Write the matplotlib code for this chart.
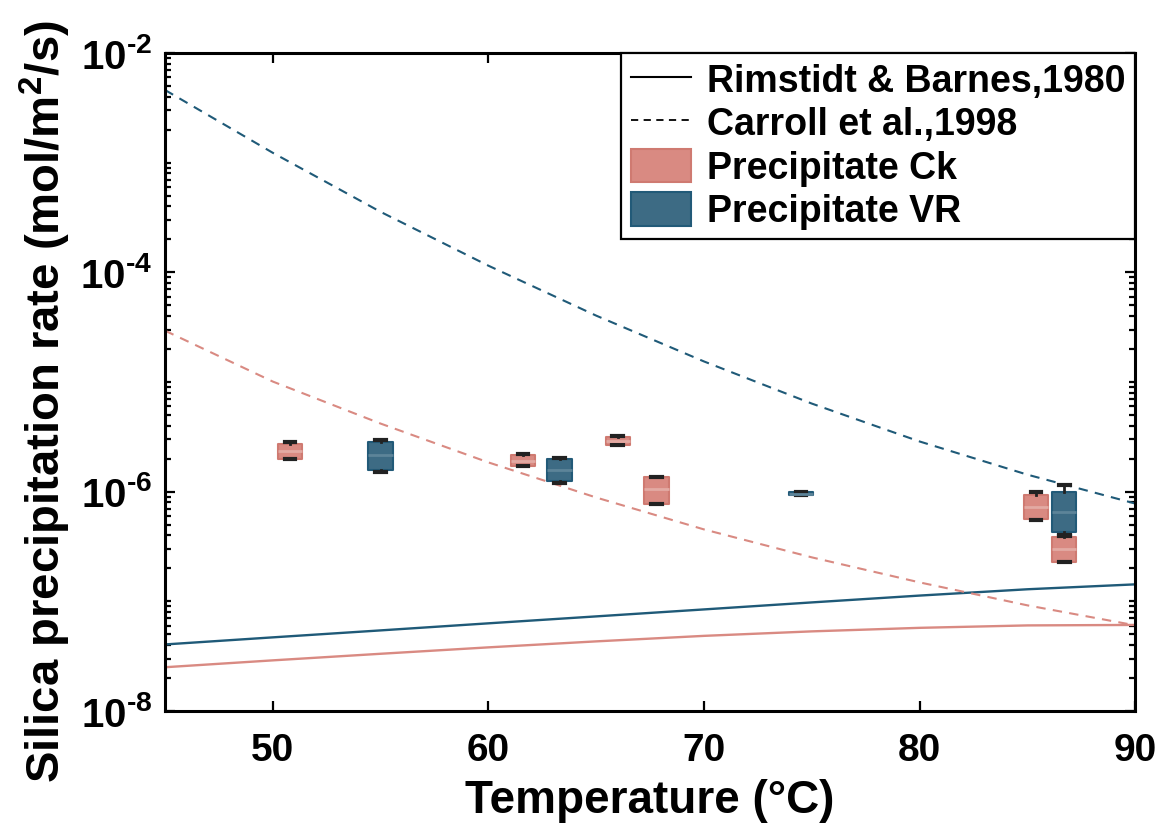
import numpy as np
import matplotlib
matplotlib.use("Agg")
import matplotlib.pyplot as plt
from matplotlib.lines import Line2D
from matplotlib.patches import Patch
from matplotlib.ticker import LogLocator, NullFormatter

# model curves (read at 5 degC steps)
temps = [45, 50, 55, 60, 65, 70, 75, 80, 85, 90]
rimstidt_vr = [4.05e-8, 4.70e-8, 5.44e-8, 6.31e-8, 7.30e-8, 8.45e-8, 9.79e-8, 1.13e-7, 1.29e-7, 1.43e-7]
rimstidt_ck = [2.51e-8, 2.90e-8, 3.33e-8, 3.81e-8, 4.32e-8, 4.85e-8, 5.33e-8, 5.74e-8, 6.04e-8, 6.10e-8]
carroll_vr = [4.6e-3, 1.23e-3, 3.56e-4, 1.15e-4, 4.03e-5, 1.54e-5, 6.36e-6, 2.87e-6, 1.43e-6, 7.8e-7]
carroll_ck = [2.94e-5, 1.01e-5, 4.18e-6, 1.85e-6, 8.85e-7, 4.53e-7, 2.52e-7, 1.49e-7, 9.2e-8, 6.05e-8]

# measured precipitation rates (box statistics)
ck_temp = [50.8, 61.6, 66.0, 67.8, 85.4, 86.7]
ck_whislo = [1.99e-6, 1.70e-6, 2.66e-6, 7.7e-7, 5.5e-7, 2.27e-7]
ck_q1 = [2.00e-6, 1.71e-6, 2.69e-6, 7.8e-7, 5.66e-7, 2.28e-7]
ck_med = [2.35e-6, 1.92e-6, 2.92e-6, 1.05e-6, 7.3e-7, 2.98e-7]
ck_q3 = [2.75e-6, 2.14e-6, 3.18e-6, 1.35e-6, 9.3e-7, 3.9e-7]
ck_whishi = [2.84e-6, 2.20e-6, 3.25e-6, 1.37e-6, 9.9e-7, 3.94e-7]

vr_temp = [55.0, 63.3, 74.5, 86.7]
vr_whislo = [1.52e-6, 1.19e-6, 9.3e-7, 4.0e-7]
vr_q1 = [1.59e-6, 1.25e-6, 9.3e-7, 4.28e-7]
vr_med = [2.14e-6, 1.59e-6, 9.6e-7, 6.6e-7]
vr_q3 = [2.82e-6, 1.97e-6, 1.0e-6, 1.0e-6]
vr_whishi = [2.99e-6, 2.04e-6, 1.0e-6, 1.14e-6]

x_ticks = [50, 60, 70, 80, 90]
y_ticks = [1e-8, 1e-6, 1e-4, 1e-2]
y_ticklabels = [r"$10^{\text{-8}}$", r"$10^{\text{-6}}$", r"$10^{\text{-4}}$", r"$10^{\text{-2}}$"]

red = "#d98a82"
red_edge = "#cf7a71"
red_med = "#e3aaa3"
blue = "#3d6b84"
blue_edge = "#225a78"
blue_med = "#5d8499"
blue_line = "#1f5a78"

plt.rcParams["font.family"] = ["Liberation Sans", "DejaVu Sans"]
plt.rcParams["font.weight"] = "bold"
plt.rcParams["mathtext.fontset"] = "custom"
plt.rcParams["mathtext.rm"] = "Liberation Sans:bold"
plt.rcParams["mathtext.bf"] = "Liberation Sans:bold"
plt.rcParams["mathtext.default"] = "bf"


def make_stats(lo, q1, med, q3, hi):
    return [dict(whislo=a, q1=b, med=c, q3=d, whishi=e, fliers=[])
            for a, b, c, d, e in zip(lo, q1, med, q3, hi)]


fig = plt.figure(figsize=(11.62, 8.23), dpi=100)
ax = fig.add_axes([0.142, 0.136, 0.835, 0.7996])

ax.plot(temps, rimstidt_vr, color=blue_line, lw=1.7)
ax.plot(temps, rimstidt_ck, color=red, lw=1.7)
ax.plot(temps, carroll_vr, color=blue_line, lw=1.5, ls=(0, (4.5, 3.5)))
ax.plot(temps, carroll_ck, color=red, lw=1.5, ls=(0, (4.5, 3.5)))

for stats, pos, fc, ec, mc in [
        (make_stats(vr_whislo, vr_q1, vr_med, vr_q3, vr_whishi), vr_temp, blue, blue_edge, blue_med),
        (make_stats(ck_whislo, ck_q1, ck_med, ck_q3, ck_whishi), ck_temp, red, red_edge, red_med)]:
    ax.bxp(stats, positions=pos, widths=1.13, patch_artist=True, showfliers=False,
           manage_ticks=False, capwidths=0.5,
           boxprops=dict(facecolor=fc, edgecolor=ec, linewidth=1.5, joinstyle="round"),
           whiskerprops=dict(color="#222222", linewidth=2),
           capprops=dict(color="#222222", linewidth=3),
           medianprops=dict(color=mc, linewidth=2))

ax.set_xlim(45, 90)
ax.set_yscale("log")
ax.set_ylim(1e-8, 1e-2)
ax.set_xticks(x_ticks)
ax.set_xticklabels([str(t) for t in x_ticks])
ax.set_yticks(y_ticks)
ax.set_yticklabels(y_ticklabels)
ax.yaxis.set_minor_locator(LogLocator(base=10, subs=np.arange(1, 10), numticks=100))
ax.yaxis.set_minor_formatter(NullFormatter())

ax.tick_params(which="both", direction="in", top=True, right=True, width=1.6)
ax.tick_params(which="major", length=7)
ax.tick_params(which="minor", length=4)
ax.tick_params(axis="x", labelsize=28, pad=16)
ax.tick_params(axis="y", labelsize=29, pad=9)
for s in ax.spines.values():
    s.set_linewidth(2.2)

ax.set_xlabel("Temperature (°C)", fontsize=33, fontweight="bold", labelpad=7)
ax.set_ylabel(r"Silica precipitation rate (mol/m$^{2}$/s)", fontsize=34, fontweight="bold")
ax.yaxis.set_label_coords(-0.095, 0.47)

handles = [Line2D([], [], color="k", lw=1.5),
           Line2D([], [], color="k", lw=1.3, ls=(0, (4, 3))),
           Patch(facecolor=red, edgecolor=red_edge, lw=1.5),
           Patch(facecolor=blue, edgecolor=blue_edge, lw=1.5)]
labels = ["Rimstidt & Barnes,1980", "Carroll et al.,1998", "Precipitate Ck", "Precipitate VR"]
leg = ax.legend(handles, labels, loc="upper right", borderaxespad=0, fancybox=False,
                framealpha=1, edgecolor="k", prop=dict(size=27, weight="bold"),
                handlelength=1.6, handleheight=1.0, handletextpad=0.45,
                labelspacing=0.15, borderpad=0.25)
leg.get_frame().set_linewidth(1.6)

fig.savefig("out.png", dpi=100)
